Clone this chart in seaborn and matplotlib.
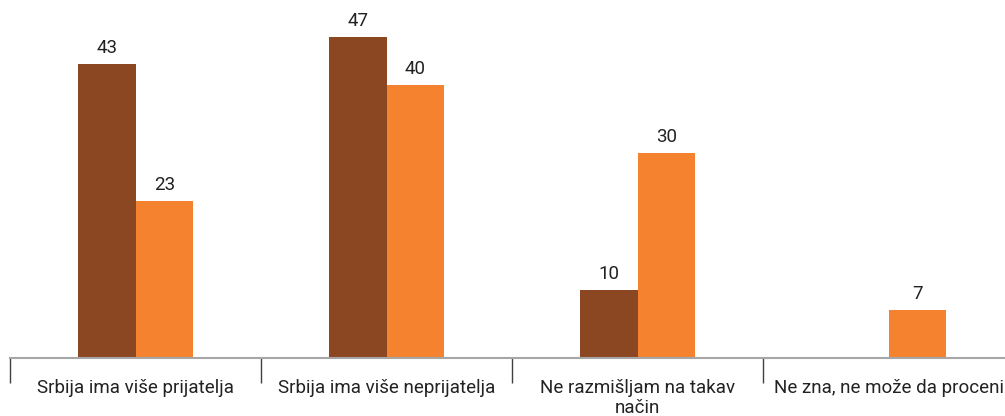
import matplotlib
matplotlib.use('Agg')
import matplotlib.pyplot as plt
import seaborn as sns
import pandas as pd
import numpy as np

# Data
categories = ['Srbija ima više prijatelja', 'Srbija ima više neprijatelja',
              'Ne razmišljam na takav\nnačin', 'Ne zna, ne može da proceni']
series_names = ['Serija 1', 'Serija 2']
values_1 = [43, 47, 10, np.nan]
values_2 = [23, 40, 30, 7]
colors = ['#8B4721', '#F5822E']

df = pd.DataFrame({
    'category': categories * 2,
    'series': [series_names[0]] * 4 + [series_names[1]] * 4,
    'value': values_1 + values_2,
})

sns.set_style('white')
plt.rcParams['font.family'] = ['Roboto', 'DejaVu Sans']

fig = plt.figure(figsize=(10.05, 4.16), dpi=100)
ax = fig.add_axes([10 / 1005, 58 / 416, 1004 / 1005, 358 / 416])

sns.barplot(data=df, x='category', y='value', hue='series', order=categories,
            palette=colors, width=0.458, saturation=1, ax=ax, legend=False,
            linewidth=0, edgecolor='none')

# Value labels above bars
for cont in ax.containers:
    labels = ['' if np.isnan(v) else f'{v:.0f}' for v in cont.datavalues]
    ax.bar_label(cont, labels=labels, padding=5, fontsize=13.5, color='#222222')

ax.set_xlim(-0.5, 3.5)
ax.set_ylim(0, 52.4)
ax.set_xlabel('')
ax.set_ylabel('')
ax.set_yticks([])

# Category labels without tick marks, separators as minor ticks
ax.set_xticks(range(len(categories)))
ax.set_xticklabels(categories, fontsize=13.5, color='#222222', linespacing=1.15)
ax.tick_params(axis='x', which='major', bottom=True, length=0, pad=15)
ax.set_xticks([-0.5, 0.5, 1.5, 2.5, 3.5], minor=True)
ax.tick_params(axis='x', which='minor', bottom=True, length=18, width=1,
               color='#404040')

for side in ['top', 'left', 'right']:
    ax.spines[side].set_visible(False)
ax.spines['bottom'].set_color('#A6A6A6')
ax.spines['bottom'].set_linewidth(1.5)

fig.savefig('out.png', dpi=100)
